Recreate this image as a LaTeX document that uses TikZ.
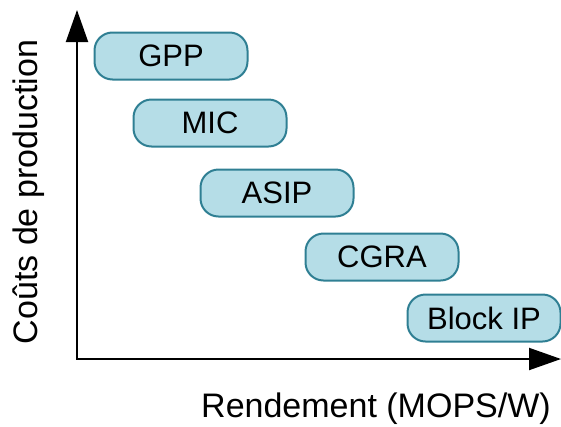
\documentclass[tikz,border=0pt]{standalone}
\usepackage{fontspec}
\setmainfont{Liberation Sans}
\usetikzlibrary{arrows.meta}
\definecolor{boxfill}{HTML}{B5DDE7}
\definecolor{boxdraw}{HTML}{2F7F93}
\begin{document}
\begin{tikzpicture}[x=1pt,y=-1pt,
  tech/.style={draw=boxdraw, fill=boxfill, line width=2pt, rounded corners=18pt,
    minimum width=153pt, minimum height=47pt, inner sep=0pt,
    font=\fontsize{31}{36}\selectfont},
  axis/.style={line width=2pt, -{Triangle[length=32pt,width=22pt]}},
  lbl/.style={font=\fontsize{34}{40}\selectfont, inner sep=0pt}]
\useasboundingbox (0,0) rectangle (561,426);
\coordinate (o) at (77,359);
\coordinate (ytop) at (77,10);
\coordinate (xend) at (561,359);
\draw[axis] (o) -- (ytop);
\draw[axis] ([xshift=-1pt]o) -- (xend);
\node[tech] (gpp) at (171,56) {GPP};
\node[tech] (mic) at (210,123) {MIC};
\node[tech] (asip) at (277,193) {ASIP};
\node[tech] (cgra) at (382,257) {CGRA};
\node[tech] (bip) at (484,318) {Block IP};
\node[lbl, rotate=90] (ylab) at (29,192) {Coûts de production};
\node[lbl] (xlab) at (376,409) {Rendement (MOPS/W)};
\end{tikzpicture}
\end{document}
